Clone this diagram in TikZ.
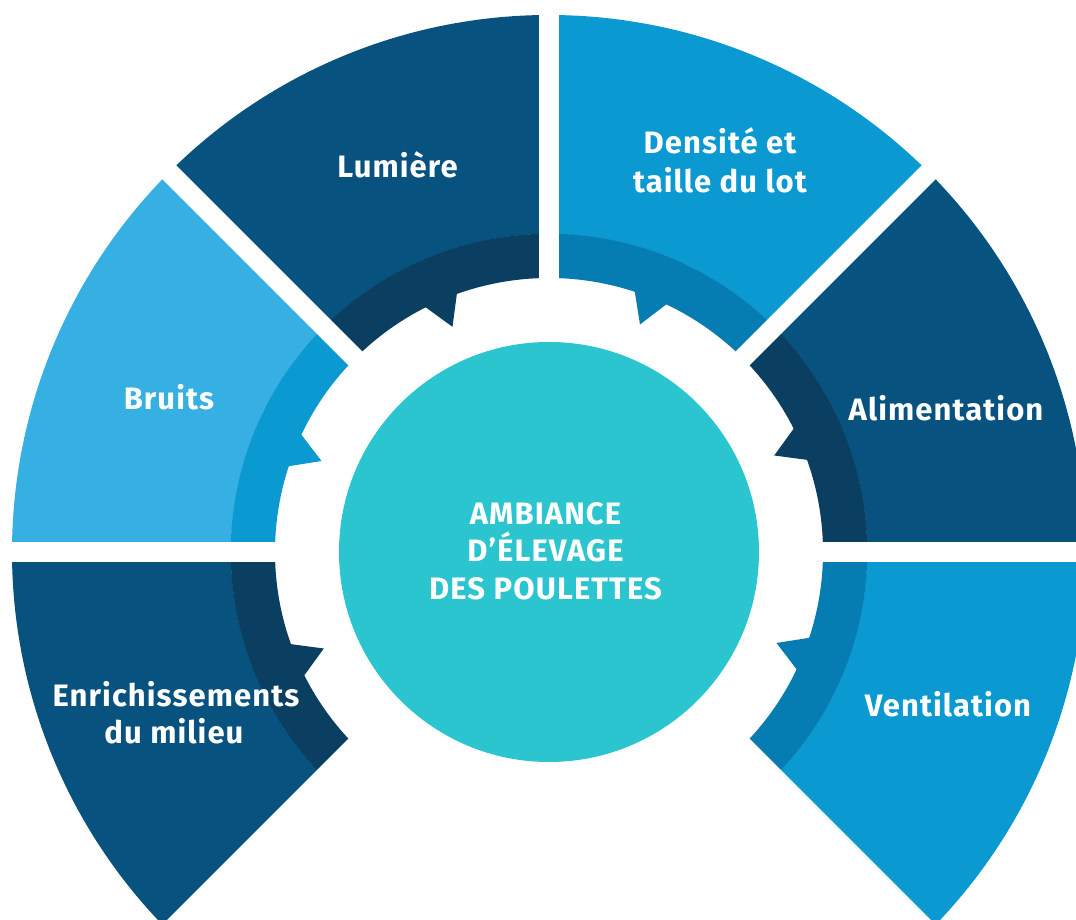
\documentclass[tikz,border=0pt]{standalone}
\usepackage{fontspec}
\setmainfont[LetterSpace=3.5]{Fira Sans}
\definecolor{navy}{HTML}{07527F}
\definecolor{navyband}{HTML}{0B3F62}
\definecolor{midblue}{HTML}{0B99D1}
\definecolor{midband}{HTML}{057CB2}
\definecolor{lightblue}{HTML}{36B0E3}
\definecolor{hubcol}{HTML}{2BC5CF}
\newcommand{\ringseg}[3]{%
  \pgfmathsetmacro{\sa}{#1}%
  \pgfmathsetmacro{\ea}{#1+45}%
  \pgfmathsetmacro{\ta}{#1+22.5+0.7}%
  \pgfmathsetmacro{\tl}{\ta-3.6}%
  \pgfmathsetmacro{\tr}{\ta+3.6}%
  \fill[#2] (\sa:537) arc[start angle=\sa,end angle=\ea,radius=537] -- (\ea:318) arc[start angle=\ea,end angle=\sa,radius=318] -- cycle;
  \fill[#3] (\sa:318.3) arc[start angle=\sa,end angle=\ea,radius=318.3] -- (\ea:274) arc[start angle=\ea,end angle=\sa,radius=274] -- cycle;
  \fill[#3] (\ta:245) -- (\tl:274.5) -- (\ta:292) -- (\tr:274.5) -- cycle;
}
\begin{document}
\begin{tikzpicture}[x=1pt,y=1pt,
  lbl/.style={text=white,font=\bfseries\fontsize{31}{38}\selectfont,anchor=base,inner sep=0pt},
  gapline/.style={white,line width=19.5pt,line cap=butt}]
\useasboundingbox (-549,-368) rectangle (527,552);
\fill[white] (-549,-368) rectangle (527,552);
% ring segments
\ringseg{90}{navy}{navyband}
\ringseg{45}{midblue}{midband}
\ringseg{0}{navy}{navyband}
\ringseg{-45}{midblue}{midband}
\ringseg{135}{lightblue}{midblue}
\ringseg{180}{navy}{navyband}
% gaps
\coordinate (o) at (0,0);
\foreach \a in {-45,0,45,90,135,180,225} {
  \coordinate (g\a) at (\a:580);
  \draw[gapline] (o) -- (g\a);
}
% hub
\node[circle,fill=hubcol,minimum size=420pt,inner sep=0pt] (hub) at (0,0) {};
\node[lbl] (hub1) at (-3.5,27) {AMBIANCE};
\node[lbl] (hub2) at (-3.5,-9.7) {D’ÉLEVAGE};
\node[lbl] (hub3) at (-3.5,-48) {DES POULETTES};
% labels
\node[lbl] (lum) at (-151.5,374.5) {Lumière};
\node[lbl] (dens1) at (171,398) {Densité et};
\node[lbl] (dens2) at (171,359) {taille du lot};
\node[lbl] (bru) at (-380,142) {Bruits};
\node[lbl] (ali) at (397,131) {Alimentation};
\node[lbl] (enr1) at (-373,-154.5) {Enrichissements};
\node[lbl] (enr2) at (-375,-192) {du milieu};
\node[lbl] (ven) at (399,-165) {Ventilation};
\end{tikzpicture}
\end{document}
